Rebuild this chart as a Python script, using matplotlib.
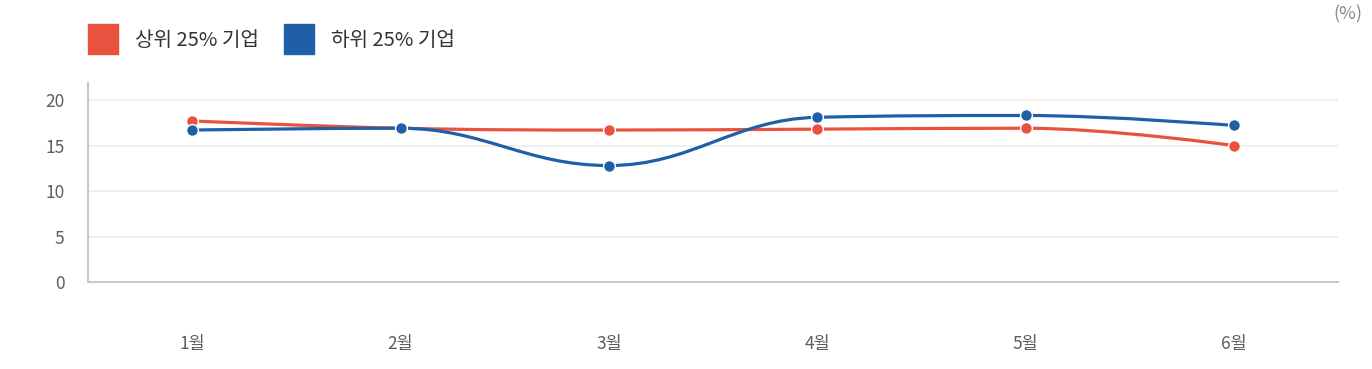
import matplotlib.pyplot as plt
from matplotlib.path import Path
from matplotlib.patches import PathPatch, Rectangle

plt.rcParams['font.family'] = ['Noto Sans CJK KR', 'DejaVu Sans']

months = ['1월', '2월', '3월', '4월', '5월', '6월']
top25 = [17.7, 16.9, 16.7, 16.8, 16.9, 15.0]
bottom25 = [16.7, 16.9, 12.8, 18.1, 18.3, 17.2]
series_names = ['상위 25% 기업', '하위 25% 기업']
colors = ['#E8523E', '#1F5FA8']


def spline_path(xs, ys, smoothing=1.5):
    # Highcharts-like spline through the points
    n = len(xs)
    denom = smoothing + 1
    left = [None] * n
    right = [None] * n
    for i in range(n):
        x, y = xs[i], ys[i]
        if 0 < i < n - 1:
            lx, ly = xs[i - 1], ys[i - 1]
            nx, ny = xs[i + 1], ys[i + 1]
            lcx = (smoothing * x + lx) / denom
            lcy = (smoothing * y + ly) / denom
            rcx = (smoothing * x + nx) / denom
            rcy = (smoothing * y + ny) / denom
            if rcx != lcx:
                corr = (rcy - lcy) * (rcx - x) / (rcx - lcx) + y - rcy
                lcy += corr
                rcy += corr
            if lcy > ly and lcy > y:
                lcy = max(ly, y)
                rcy = 2 * y - lcy
            elif lcy < ly and lcy < y:
                lcy = min(ly, y)
                rcy = 2 * y - lcy
            if rcy > ny and rcy > y:
                rcy = max(ny, y)
                lcy = 2 * y - rcy
            elif rcy < ny and rcy < y:
                rcy = min(ny, y)
                lcy = 2 * y - rcy
            left[i] = (lcx, lcy)
            right[i] = (rcx, rcy)
        else:
            left[i] = (x, y)
            right[i] = (x, y)
    verts = [(xs[0], ys[0])]
    codes = [Path.MOVETO]
    for i in range(1, n):
        verts += [right[i - 1], left[i], (xs[i], ys[i])]
        codes += [Path.CURVE4] * 3
    return Path(verts, codes)


fig = plt.figure(figsize=(13.72, 3.69), dpi=100)
ax = fig.add_axes([88 / 1372, 1 - 282 / 369, 1250 / 1372, 199 / 369])

xs = list(range(len(months)))
for vals, c in zip([top25, bottom25], colors):
    ax.add_patch(PathPatch(spline_path(xs, vals), fill=False, edgecolor=c,
                           lw=2.3, capstyle='round', zorder=3))
    ax.plot(xs, vals, 'o', color=c, markersize=8.5, markeredgecolor='white',
            markeredgewidth=1.0, zorder=4)

ax.set_xlim(-0.5, 5.5)
ax.set_ylim(0, 21.87)
ax.set_yticks([0, 5, 10, 15, 20])
ax.set_xticks(xs)
ax.set_xticklabels(months)
ax.grid(axis='y', color='#EEEDE6', lw=1.2, zorder=0)
ax.set_axisbelow(True)
for s in ['top', 'right']:
    ax.spines[s].set_visible(False)
for s in ['left', 'bottom']:
    ax.spines[s].set_color('#CCC8C2')
    ax.spines[s].set_linewidth(1.5)
ax.tick_params(axis='both', length=0, labelsize=12.5, labelcolor='#5E5E5E')
ax.tick_params(axis='y', pad=17)
ax.tick_params(axis='x', pad=38)

# legend
for i, (name, c) in enumerate(zip(series_names, colors)):
    x0 = (88 + i * 196) / 1372
    fig.patches.append(Rectangle((x0, 1 - 54 / 369), 30 / 1372, 30 / 369,
                                 transform=fig.transFigure, color=c))
    fig.text(x0 + 47 / 1372, 1 - 41 / 369, name, fontsize=14.5, color='#333333',
             va='center', ha='left')

fig.text(1362 / 1372, 1 - 14 / 369, '(%)', fontsize=13, color='#888888',
         va='center', ha='right')

fig.savefig('out.png', dpi=100)
